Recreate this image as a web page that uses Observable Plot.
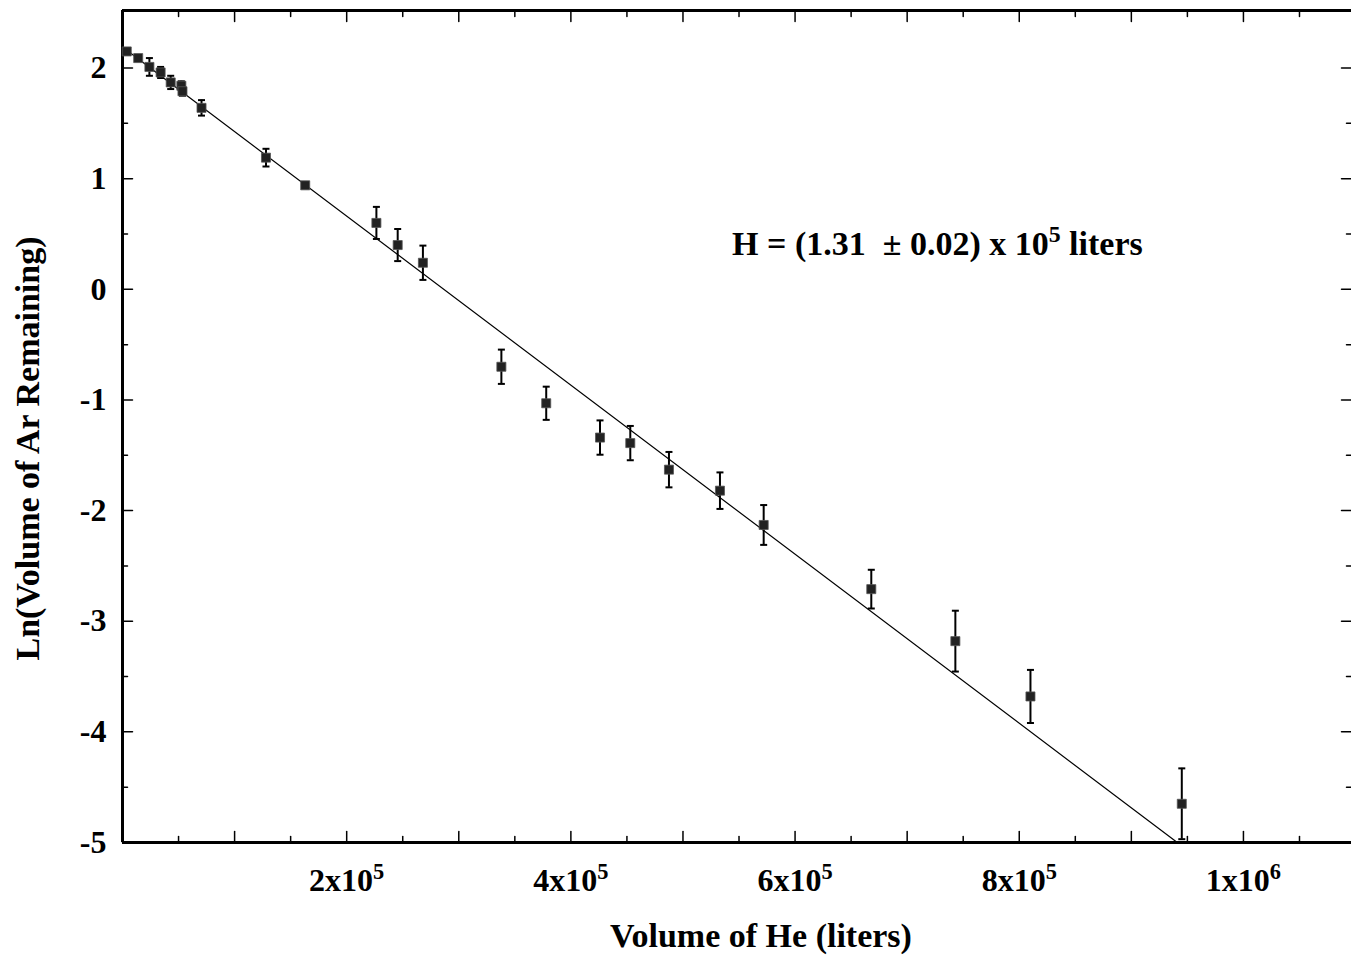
<!DOCTYPE html>
<html>
<head>
<meta charset="utf-8">
<script src="https://cdn.jsdelivr.net/npm/d3@7"></script>
<script src="https://cdn.jsdelivr.net/npm/@observablehq/plot@0.6"></script>
<style>
  html, body { margin: 0; padding: 0; background: #fff; }
  #chart svg { display: block; }
</style>
</head>
<body>
<div id="chart"></div>
<script>
// ---- data ----
const heVolume = [3800, 14000, 24000, 34000, 43000, 52500, 53500, 70500, 128000, 163000,
                  226500, 245500, 268000, 338000, 378000, 426000, 453000, 487500,
                  533000, 572000, 668000, 743000, 810000, 945000];
const lnAr = [2.15, 2.09, 2.01, 1.96, 1.87, 1.84, 1.79, 1.64, 1.19, 0.94,
              0.60, 0.40, 0.24, -0.70, -1.03, -1.34, -1.39, -1.63,
              -1.82, -2.13, -2.71, -3.18, -3.68, -4.65];
const lnArErr = [0.02, 0.02, 0.08, 0.05, 0.06, 0.04, 0.04, 0.07, 0.08, 0.02,
                 0.145, 0.145, 0.155, 0.155, 0.15, 0.155, 0.155, 0.16,
                 0.165, 0.18, 0.175, 0.275, 0.24, 0.32];
// least-squares fit line endpoints
const fitX = [0, 941000];
const fitY = [2.19, -5];
// axes
const xDomain = [0, 1096400];
const yDomain = [-5, 2.52];
const xTickValues = [200000, 400000, 600000, 800000, 1000000];
const xTickLabels = ["2x10^5", "4x10^5", "6x10^5", "8x10^5", "1x10^6"];
const xMajorTicks = [100000, 200000, 300000, 400000, 500000, 600000, 700000, 800000, 900000, 1000000];
const xMinorTicks = [50000, 150000, 250000, 350000, 450000, 550000, 650000, 750000, 850000, 950000, 1050000];
const yTickValues = [2, 1, 0, -1, -2, -3, -4, -5];
const yTickLabels = ["2", "1", "0", "-1", "-2", "-3", "-4", "-5"];
const yMinorTicks = [1.5, 0.5, -0.5, -1.5, -2.5, -3.5, -4.5];
const xLabel = "Volume of He (liters)";
const yLabel = "Ln(Volume of Ar Remaining)";
const annotation = "H = (1.31  \u00B1 0.02) x 10^5 liters";

// ---- build ----
const points = heVolume.map((x, i) => ({x, y: lnAr[i], lo: lnAr[i] - lnArErr[i], hi: lnAr[i] + lnArErr[i]}));
const fit = fitX.map((x, i) => ({x, y: fitY[i]}));

const tickShape = {draw(ctx, l) { ctx.moveTo(0, 0); ctx.lineTo(0, -l); }};
const capSymbol = {draw(ctx) { ctx.moveTo(-3.5, 0); ctx.lineTo(3.5, 0); }};

const FONT = "Liberation Serif, Times New Roman, serif";
const FS = 32;   // tick labels
const FT = 34;   // titles and annotation

const chart = Plot.plot({
  width: 1351,
  height: 965,
  marginLeft: 122,
  marginRight: 0,
  marginTop: 10,
  marginBottom: 123,
  style: {background: "#fff", color: "#000", fontFamily: FONT},
  x: {domain: xDomain, axis: null},
  y: {domain: yDomain, axis: null},
  marks: [
    // inward ticks
    Plot.vector(xMajorTicks, {x: d => d, frameAnchor: "bottom", length: 11, anchor: "start", rotate: 0, shape: tickShape, stroke: "#000", strokeWidth: 1.5}),
    Plot.vector(xMinorTicks, {x: d => d, frameAnchor: "bottom", length: 6, anchor: "start", rotate: 0, shape: tickShape, stroke: "#000", strokeWidth: 1.5}),
    Plot.vector(xMajorTicks, {x: d => d, frameAnchor: "top", length: 11, anchor: "start", rotate: 180, shape: tickShape, stroke: "#000", strokeWidth: 1.5}),
    Plot.vector(xMinorTicks, {x: d => d, frameAnchor: "top", length: 6, anchor: "start", rotate: 180, shape: tickShape, stroke: "#000", strokeWidth: 1.5}),
    Plot.vector(yTickValues, {y: d => d, frameAnchor: "left", length: 10, anchor: "start", rotate: 90, shape: tickShape, stroke: "#000", strokeWidth: 1.5}),
    Plot.vector(yMinorTicks, {y: d => d, frameAnchor: "left", length: 5, anchor: "start", rotate: 90, shape: tickShape, stroke: "#000", strokeWidth: 1.5}),
    Plot.vector(yTickValues, {y: d => d, frameAnchor: "right", length: 10, anchor: "start", rotate: -90, shape: tickShape, stroke: "#000", strokeWidth: 1.5}),
    Plot.vector(yMinorTicks, {y: d => d, frameAnchor: "right", length: 5, anchor: "start", rotate: -90, shape: tickShape, stroke: "#000", strokeWidth: 1.5}),
    // frame (left, top, bottom)
    Plot.ruleX([xDomain[0]], {stroke: "#000", strokeWidth: 3}),
    Plot.ruleY([yDomain[0], yDomain[1]], {stroke: "#000", strokeWidth: 3}),
    // tick labels
    Plot.text(xTickValues, {x: d => d, text: (d, i) => xTickLabels[i], frameAnchor: "bottom", dy: 38, textAnchor: "middle", lineAnchor: "middle", fontSize: FS, fontWeight: "bold", fontFamily: FONT, fill: "#000"}),
    Plot.text(yTickValues, {y: d => d, text: (d, i) => yTickLabels[i], frameAnchor: "left", dx: -16, textAnchor: "end", lineAnchor: "middle", fontSize: FS, fontWeight: "bold", fontFamily: FONT, fill: "#000"}),
    // axis titles
    Plot.text([xLabel], {frameAnchor: "bottom", dx: 24, dy: 94, textAnchor: "middle", lineAnchor: "middle", fontSize: FT, fontWeight: "bold", fontFamily: FONT, fill: "#000"}),
    Plot.text([yLabel], {frameAnchor: "left", dx: -94, dy: 22, rotate: -90, textAnchor: "middle", lineAnchor: "middle", fontSize: FT, fontWeight: "bold", fontFamily: FONT, fill: "#000"}),
    // fit line
    Plot.line(fit, {x: "x", y: "y", stroke: "#000", strokeWidth: 1.2}),
    // error bars
    Plot.ruleX(points, {x: "x", y1: "lo", y2: "hi", stroke: "#000", strokeWidth: 2}),
    Plot.dot(points, {x: "x", y: "lo", symbol: capSymbol, stroke: "#000", strokeWidth: 2, fill: "none"}),
    Plot.dot(points, {x: "x", y: "hi", symbol: capSymbol, stroke: "#000", strokeWidth: 2, fill: "none"}),
    // markers
    Plot.dot(points, {x: "x", y: "y", symbol: "square", r: 5.1, fill: "#222", stroke: "#555", strokeWidth: 0.8}),
    // annotation
    Plot.text([annotation], {x: 727000, y: 0.41, textAnchor: "middle", lineAnchor: "middle", fontSize: FT, fontWeight: "bold", fontFamily: FONT, fill: "#000"})
  ]
});

// superscripts: "a^5b" -> a, raised 5, b
const NS = "http://www.w3.org/2000/svg";
chart.querySelectorAll("text").forEach(el => {
  const fs = parseFloat(el.getAttribute("font-size")) || parseFloat(el.parentNode.getAttribute("font-size")) || FS;
  const targets = el.children.length ? Array.from(el.querySelectorAll("tspan")) : [el];
  targets.forEach(t => {
    const s = t.textContent;
    if (!s.includes("^")) return;
    const parts = s.split(/\^(\w+)/);
    t.textContent = "";
    const raise = fs * 0.38;
    parts.forEach((p, i) => {
      if (!p) return;
      const span = document.createElementNS(NS, "tspan");
      span.textContent = p;
      if (i % 2 === 1) {
        span.setAttribute("dy", -raise);
        span.setAttribute("font-size", fs * 0.7);
      } else if (i > 0) {
        span.setAttribute("dy", raise);
      }
      t.appendChild(span);
    });
  });
});

document.getElementById("chart").appendChild(chart);
</script>
</body>
</html>
